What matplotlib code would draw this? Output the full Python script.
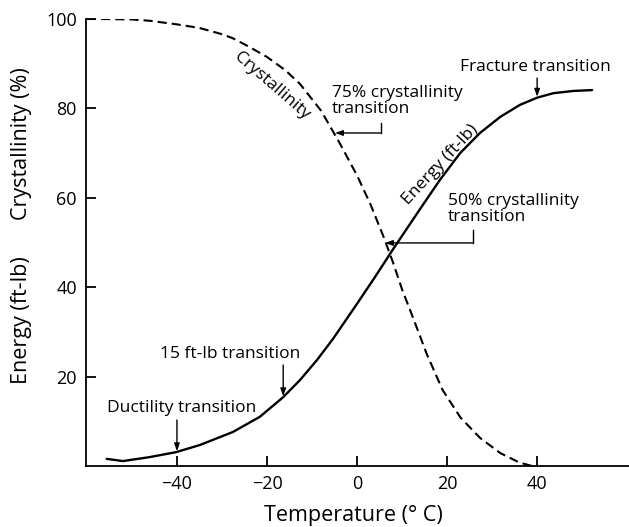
import matplotlib
matplotlib.use("Agg")
import matplotlib.pyplot as plt

plt.rcParams['font.family'] = ['Open Sans', 'DejaVu Sans']

# Energy curve (ft-lb) vs temperature (°C)
energy_T = [-55.6, -52, -46, -40.2, -34.9, -27.6, -21.6, -16.4, -12.7, -8.9, -5.3,
            0, 4, 8, 14, 18.4, 22.9, 27.3, 31.8, 36.2, 40, 43.6, 48, 52.2]
energy_E = [1.6, 1.1, 2.0, 3.1, 4.7, 7.6, 11, 15.4, 19.2, 23.7, 28.5,
            36.3, 42.3, 48.5, 57.5, 64, 70, 74.5, 78.1, 80.8, 82.4, 83.4, 83.9, 84.1]

# Crystallinity curve (%) vs temperature (°C)
cryst_T = [-60, -57, -50, -46, -40, -35, -30, -27.6, -24, -20, -16, -12.7, -8, -4,
           0, 3, 6, 8, 10, 12.5, 15.5, 19, 23, 27.3, 31.8, 36, 38.5, 39.5]
cryst_C = [100, 100, 99.9, 99.6, 98.8, 98, 96.6, 95.7, 93.8, 91.5, 88.6, 85.5, 79.5, 72.5,
           65, 58.5, 51, 45.5, 39.5, 33, 25, 17, 10.8, 6.3, 2.9, 0.8, 0.1, 0]

x_ticks = [-40, -20, 0, 20, 40]
x_ticklabels = ['\u221240', '\u221220', '0', '20', '40']
y_ticks = [20, 40, 60, 80, 100]
y_ticklabels = ['20', '40', '60', '80', '100']

fig = plt.figure(figsize=(6.29, 5.27), dpi=100)
ax = fig.add_axes([86/629, 61/527, 543/629, 447/527])

ax.plot(energy_T, energy_E, color='black', lw=1.7, solid_capstyle='round', solid_joinstyle='round')
ax.plot(cryst_T, cryst_C, color='black', lw=1.5, dashes=(4.4, 2.4))

ax.set_xlim(-60.2, 60.4)
ax.set_ylim(0, 100)
ax.set_xticks(x_ticks)
ax.set_xticklabels(x_ticklabels)
ax.set_yticks(y_ticks)
ax.set_yticklabels(y_ticklabels)
for s in ['top', 'right']:
    ax.spines[s].set_visible(False)
for s in ['left', 'bottom']:
    ax.spines[s].set_linewidth(1.3)
ax.tick_params(direction='in', length=7, width=1.3, labelsize=13, pad=6.5)

# axis labels
fig.text(353/629, 1 - 516/527, 'Temperature (° C)', ha='center', va='center', fontsize=15.5)
fig.text(22/629, 1 - 144/527, 'Crystallinity (%)', ha='center', va='center', rotation=90, fontsize=15.5)
fig.text(22/629, 1 - 320/527, 'Energy (ft-lb)', ha='center', va='center', rotation=90, fontsize=15.5)

fs = 12.5
# curve labels
ax.text(-19.0, 85.0, 'Crystallinity', rotation=-41, ha='center', va='center', fontsize=fs)
ax.text(18.4, 67.3, 'Energy (ft-lb)', rotation=47, ha='center', va='center', fontsize=fs)

# annotation texts
ax.text(-5.6, 81.7, '75% crystallinity\ntransition', ha='left', va='center', fontsize=fs, linespacing=1.05)
ax.text(20.2, 57.5, '50% crystallinity\ntransition', ha='left', va='center', fontsize=fs, linespacing=1.05)
ax.text(39.7, 89.3, 'Fracture transition', ha='center', va='center', fontsize=fs)
ax.text(-28.2, 25, '15 ft-lb transition', ha='center', va='center', fontsize=fs)
ax.text(-39, 13, 'Ductility transition', ha='center', va='center', fontsize=fs)

arrow = dict(arrowstyle='-|>,head_length=0.45,head_width=0.16', color='black', lw=1.0,
             shrinkA=0, shrinkB=0)
# vertical arrows
ax.annotate('', xy=(40, 82.6), xytext=(40, 86.8), arrowprops=arrow)
ax.annotate('', xy=(-16.4, 15.6), xytext=(-16.4, 22.6), arrowprops=arrow)
ax.annotate('', xy=(-40, 3.3), xytext=(-40, 10.3), arrowprops=arrow)
# bracket arrows
ax.plot([5.3, 5.3], [76.8, 74.5], color='black', lw=1.0)
ax.annotate('', xy=(-4.9, 74.5), xytext=(5.3, 74.5), arrowprops=arrow)
ax.plot([25.8, 25.8], [52.8, 49.9], color='black', lw=1.0)
ax.annotate('', xy=(6.2, 49.9), xytext=(25.8, 49.9), arrowprops=arrow)

fig.savefig('out.png', dpi=100)
